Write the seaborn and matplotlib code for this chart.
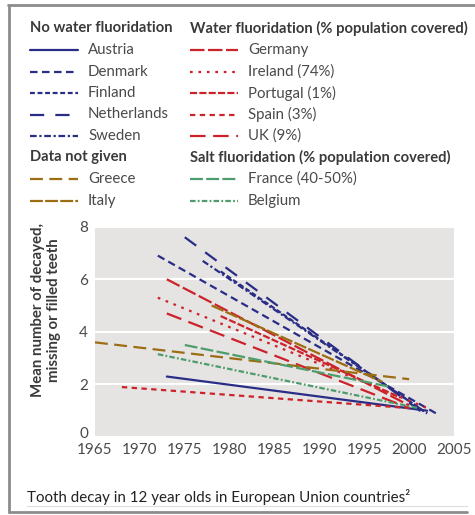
import pandas as pd
import matplotlib
matplotlib.use("Agg")
import matplotlib.pyplot as plt
from matplotlib.lines import Line2D
from matplotlib.transforms import ScaledTranslation
import seaborn as sns

# Data: start/end point of each country's trend line
countries = ["Austria", "Denmark", "Finland", "Netherlands", "Sweden",
             "Germany", "Ireland", "Portugal", "Spain", "UK",
             "Greece", "Italy", "France", "Belgium"]
year_start = [1973, 1972, 1979, 1975, 1977, 1973, 1972, 1979, 1968, 1973, 1965, 1978, 1975, 1972]
dmft_start = [2.3, 6.9, 6.3, 7.6, 6.7, 6.0, 5.3, 4.6, 1.9, 4.7, 3.6, 5.0, 3.5, 3.15]
year_end = [2002, 2003, 2002, 2002, 2002, 2000, 2002, 1999, 2000, 2000, 2000, 1997, 1998, 2001]
dmft_end = [1.0, 0.9, 0.9, 0.8, 0.9, 1.2, 1.1, 1.5, 1.1, 1.1, 2.2, 2.1, 1.9, 1.1]

x_ticks = [1965, 1970, 1975, 1980, 1985, 1990, 1995, 2000, 2005]
y_ticks = [0, 2, 4, 6, 8]

# legend groups
groups = [
    ("No water fluoridation", ["Austria", "Denmark", "Finland", "Netherlands", "Sweden"]),
    ("Data not given", ["Greece", "Italy"]),
    ("Water fluoridation (% population covered)", ["Germany", "Ireland", "Portugal", "Spain", "UK"]),
    ("Salt fluoridation (% population covered)", ["France", "Belgium"]),
]
legend_names = {"Ireland": "Ireland (74%)", "Portugal": "Portugal (1%)", "Spain": "Spain (3%)",
                "UK": "UK (9%)", "France": "France (40-50%)"}

navy = "#2a2d86"
red = "#cc2229"
gold = "#9c6d12"
green = "#4d9d6c"
palette = {"Austria": navy, "Denmark": navy, "Finland": navy, "Netherlands": navy, "Sweden": navy,
           "Germany": red, "Ireland": red, "Portugal": red, "Spain": red, "UK": red,
           "Greece": gold, "Italy": gold, "France": green, "Belgium": green}
dashes = {"Austria": "", "Denmark": (3.4, 2.0), "Finland": (2.2, 1.2), "Netherlands": (6.4, 5.0),
          "Sweden": (3.0, 1.2, 1.0, 1.2), "Germany": (6.5, 1.6), "Ireland": (1.2, 2.6),
          "Portugal": (3.2, 1.0), "Spain": (2.4, 2.0), "UK": (7.0, 3.4), "Greece": (5.8, 2.9),
          "Italy": (5.8, 1.0), "France": (5.8, 1.5), "Belgium": (2.5, 1.0, 0.8, 1.0)}

rows = []
for c, x0, y0, x1, y1 in zip(countries, year_start, dmft_start, year_end, dmft_end):
    rows.append({"country": c, "year": x0, "dmft": y0})
    rows.append({"country": c, "year": x1, "dmft": y1})
df = pd.DataFrame(rows)

sns.set_theme(style="white")
plt.rcParams["font.family"] = ["Lato", "DejaVu Sans"]

W, H = 475, 515
fig = plt.figure(figsize=(W / 100, H / 100), dpi=100)


def fx(x):
    return x / W


def fy(y):
    return 1 - y / H


ax = fig.add_axes([fx(95), fy(437), fx(454) - fx(95), fy(226.7) - fy(437)])
ax.set_facecolor("#e6e4e3")

sns.lineplot(data=df, x="year", y="dmft", hue="country", style="country",
             palette=palette, dashes=dashes, linewidth=1.6, legend=False, ax=ax)

ax.set_xlim(1965, 2005)
ax.set_ylim(0, 8)
ax.set_xticks(x_ticks)
ax.set_yticks(y_ticks)
ax.yaxis.grid(True, color="white", linewidth=1.5)
ax.set_axisbelow(True)
for s in ax.spines.values():
    s.set_visible(False)
ax.tick_params(axis="x", direction="in", length=3, color="white", width=1,
               labelsize=11, labelcolor="#4a4a4a", pad=4)
ax.tick_params(axis="y", length=0, labelsize=11, labelcolor="#4a4a4a", pad=5)
# the "0" sits a little above the baseline so it clears "1965"
zero_lab = ax.get_yticklabels()[0]
zero_lab.set_transform(zero_lab.get_transform() + ScaledTranslation(0, 5 / 100, fig.dpi_scale_trans))
ax.set_xlabel("")
ax.set_ylabel("")

fig.text(fx(46), fy(310), "Mean number of decayed,\nmissing or filled teeth",
         rotation=90, ha="center", va="center", fontsize=10.8, fontweight="bold",
         color="#3a3a3a", linespacing=1.1)

# legend drawn by hand in figure coordinates
cols = [(30, 88, groups[:2]), (190, 248, groups[2:])]
row_h = 21.5
for x_line, x_text, grp in cols:
    y = 28.5
    for title, members in grp:
        fig.text(fx(x_line), fy(y), title, fontsize=10.6, fontweight="bold",
                 color="#3a3a3a", va="center", ha="left")
        y += row_h
        for m in members:
            ls = "-" if dashes[m] == "" else (0, dashes[m])
            fig.add_artist(Line2D([fx(x_line), fx(x_line + 48)], [fy(y), fy(y)],
                                  color=palette[m], linewidth=1.6, linestyle=ls))
            fig.text(fx(x_text), fy(y), legend_names.get(m, m), fontsize=10.8,
                     color="#4a4a4a", va="center", ha="left")
            y += row_h

fig.text(fx(27), fy(497), "Tooth decay in 12 year olds in European Union countries²",
         fontsize=10.9, color="#222222", va="center", ha="left")

# frame
frame = "#8c8c8c"
fig.add_artist(Line2D([fx(8), fx(475)], [fy(5), fy(5)], color=frame, linewidth=2))
fig.add_artist(Line2D([fx(9), fx(9)], [fy(5), fy(512)], color=frame, linewidth=2))
fig.add_artist(Line2D([fx(9), fx(467)], [fy(512), fy(512)], color=frame, linewidth=2))
fig.add_artist(Line2D([fx(27), fx(467)], [fy(506), fy(506)], color="#dddddd", linewidth=0.8))

fig.savefig("out.png", dpi=100)
